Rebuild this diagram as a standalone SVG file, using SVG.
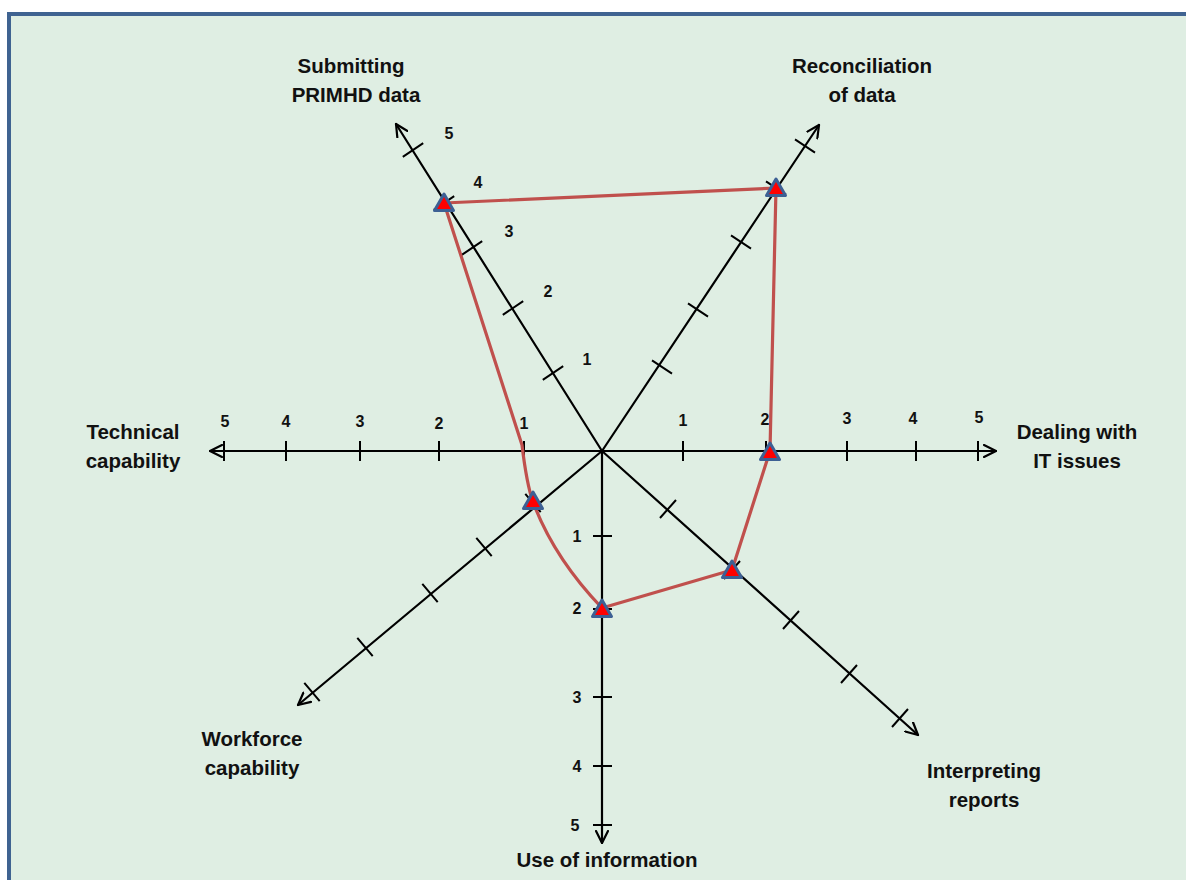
<svg xmlns="http://www.w3.org/2000/svg" xmlns:xlink="http://www.w3.org/1999/xlink" width="1186" height="880" viewBox="0 0 1186 880">
<style>
.ax{stroke:#000;stroke-width:2.2;fill:none;stroke-linecap:round}
.tk{stroke:#000;stroke-width:2;fill:none}
.lbl{font-family:"Liberation Sans",Arial,sans-serif;font-weight:bold;font-size:20.5px;fill:#111;text-anchor:middle}
.num{font-family:"Liberation Sans",Arial,sans-serif;font-weight:bold;font-size:16px;fill:#111;text-anchor:middle}
.poly{stroke:#c0504d;stroke-width:3.2;fill:none;stroke-linejoin:round}
</style>
<defs>
<marker id="arr" viewBox="0 0 14 14" refX="13" refY="7" markerWidth="14" markerHeight="14" markerUnits="userSpaceOnUse" orient="auto-start-reverse">
<path d="M1,1 L13,7 L1,13" fill="none" stroke="#000" stroke-width="2.2" stroke-linecap="round" stroke-linejoin="round"/>
</marker>
<path id="tri" d="M0,-9 L9.5,7.5 L-9.5,7.5 Z" fill="#ff0000" stroke="#3d6094" stroke-width="3" stroke-linejoin="round"/>
</defs>
<rect x="9" y="14" width="1200" height="900" fill="#dfeee3" stroke="#3f6391" stroke-width="4"/>

<g id="axis-horizontal">
<line class="ax" x1="210" y1="451" x2="996" y2="451" marker-start="url(#arr)" marker-end="url(#arr)"/>
<path class="tk" d="M224,441V461 M286,441V461 M360,441V461 M439,441V461 M524,441V461 M683,441V461 M766,441V461 M847,441V461 M916,441V461 M978,441V461"/>
<text class="num" x="225" y="427">5</text>
<text class="num" x="286" y="427">4</text>
<text class="num" x="360" y="427">3</text>
<text class="num" x="439" y="429">2</text>
<text class="num" x="524" y="429">1</text>
<text class="num" x="683" y="426">1</text>
<text class="num" x="765" y="425">2</text>
<text class="num" x="847" y="424">3</text>
<text class="num" x="913" y="424">4</text>
<text class="num" x="979" y="423">5</text>
</g>

<g id="axis-use-of-information">
<line class="ax" x1="602" y1="451" x2="602" y2="843" marker-end="url(#arr)"/>
<path class="tk" d="M593,536H612 M593,609H612 M593,697H612 M593,766H612 M593,825H612"/>
<text class="num" x="577" y="542">1</text>
<text class="num" x="577" y="614">2</text>
<text class="num" x="577" y="703">3</text>
<text class="num" x="577" y="772">4</text>
<text class="num" x="575" y="831">5</text>
</g>

<g id="axis-submitting">
<line class="ax" x1="602" y1="451" x2="396" y2="124" marker-end="url(#arr)"/>
<path class="tk" d="M542.8,379.9L563.2,366.1 M502.8,314.9L523.2,301.1 M461.8,254.9L482.2,241.1 M433.8,209.9L454.2,196.1 M402.8,156.9L423.2,143.1"/>
<text class="num" x="449" y="139">5</text>
<text class="num" x="478" y="188">4</text>
<text class="num" x="509" y="237">3</text>
<text class="num" x="548" y="297">2</text>
<text class="num" x="587" y="365">1</text>
</g>

<g id="axis-reconciliation">
<line class="ax" x1="602" y1="451" x2="819" y2="125" marker-end="url(#arr)"/>
<path class="tk" d="M652,360.4L672,373.6 M688,303.4L708,316.6 M731,235.4L751,248.6 M766,181.4L786,194.6 M795,139.4L815,152.6"/>
</g>

<g id="axis-workforce">
<line class="ax" x1="602" y1="451" x2="298" y2="705" marker-end="url(#arr)"/>
<path class="tk" d="M525.3,493.8L540.7,512.2 M476.3,537.8L491.7,556.2 M422.3,583.8L437.7,602.2 M357.3,637.8L372.7,656.2 M304.3,682.8L319.7,701.2"/>
</g>

<g id="axis-interpreting">
<line class="ax" x1="602" y1="451" x2="918" y2="735" marker-end="url(#arr)"/>
<path class="tk" d="M676,500L660,518 M740,561L724,579 M799,611L783,629 M857,665L841,683 M908,709L892,727"/>
</g>

<g id="label-submitting"><text class="lbl" x="351" y="73">Submitting</text><text class="lbl" x="356" y="102">PRIMHD data</text></g>
<g id="label-reconciliation"><text class="lbl" x="862" y="73">Reconciliation</text><text class="lbl" x="862" y="102">of data</text></g>
<g id="label-technical"><text class="lbl" x="133" y="439">Technical</text><text class="lbl" x="133" y="468">capability</text></g>
<g id="label-dealing"><text class="lbl" x="1077" y="439">Dealing with</text><text class="lbl" x="1077" y="468">IT issues</text></g>
<g id="label-workforce"><text class="lbl" x="252" y="746">Workforce</text><text class="lbl" x="252" y="775">capability</text></g>
<g id="label-interpreting"><text class="lbl" x="984" y="778">Interpreting</text><text class="lbl" x="984" y="807">reports</text></g>
<g id="label-use"><text class="lbl" x="607" y="867">Use of information</text></g>

<g id="connectors">
<path class="poly" d="M444,203 L776,188 L770,451 L732,570 L602,608 Q554,558 533,502 C528,488 525,470 522,445 L444,203 Z"/>
</g>

<g id="markers">
<use xlink:href="#tri" x="444" y="203"/>
<use xlink:href="#tri" x="776" y="188"/>
<use xlink:href="#tri" x="770" y="452"/>
<use xlink:href="#tri" x="732" y="570"/>
<use xlink:href="#tri" x="602" y="609"/>
<use xlink:href="#tri" x="533" y="501"/>
</g>
</svg>
